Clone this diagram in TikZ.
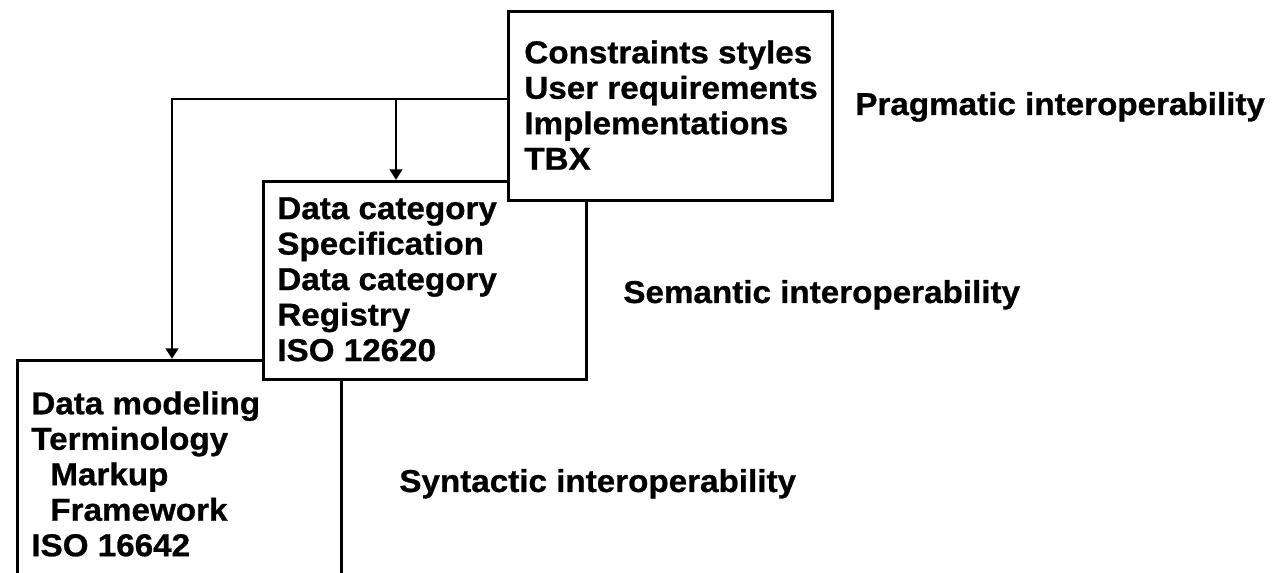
\documentclass[tikz,border=0pt]{standalone}
\usepackage{fontspec}
\newfontfamily\diagfont{Liberation Sans}[FakeStretch=1.05, BoldFeatures={FakeBold=0.8}]
\usetikzlibrary{positioning,arrows.meta}

\begin{document}
\begin{tikzpicture}[
    x=0.02cm, y=-0.02cm,
    layerbox/.style={rectangle, draw=black, fill=white, line width=1.9pt,
                     inner sep=0pt, anchor=north west},
    boxtext/.style={inner sep=0pt, anchor=north west, align=left,
                    font=\diagfont\bfseries\fontsize{18}{20.2}\selectfont},
    levellabel/.style={inner sep=0pt, anchor=base west,
                       font=\diagfont\bfseries\fontsize{18}{20.2}\selectfont},
    conn/.style={line width=1.5pt, -{Triangle[length=6pt,width=7pt]}}
]
\clip (0,0) rectangle (1285,573);

% Boxes, back to front
\node[layerbox, minimum width=324*0.02cm, minimum height=225*0.02cm] (syntactic) at (16,359) {};
\node[layerbox, minimum width=323*0.02cm, minimum height=198*0.02cm] (semantic) at (262,180) {};
\node[layerbox, minimum width=324*0.02cm, minimum height=189*0.02cm] (pragmatic) at (507,10) {};

% Box contents
\node[boxtext] (pragtext) at (524,40) {Constraints styles\\User requirements\\Implementations\\TBX};
\node[boxtext] (semtext) at (277,197) {Data category\\Specification\\Data category\\Registry\\ISO 12620};
\node[boxtext] (syntext) at (31,391) {Data modeling\\Terminology\\\hspace*{0.38cm}Markup\\\hspace*{0.38cm}Framework\\ISO 16642};

% Level names
\node[levellabel] (praglabel) at (855,115) {Pragmatic interoperability};
\node[levellabel] (semlabel) at (623,303) {Semantic interoperability};
\node[levellabel] (synlabel) at (399,492) {Syntactic interoperability};

% Arrows from the top box
\coordinate (fork) at (172,99);
\coordinate (split) at (396,99);
\draw[conn] (pragmatic.west |- fork) -| (syntactic.north -| fork);
\draw[conn] (split) -- (semantic.north -| split);

\end{tikzpicture}
\end{document}
